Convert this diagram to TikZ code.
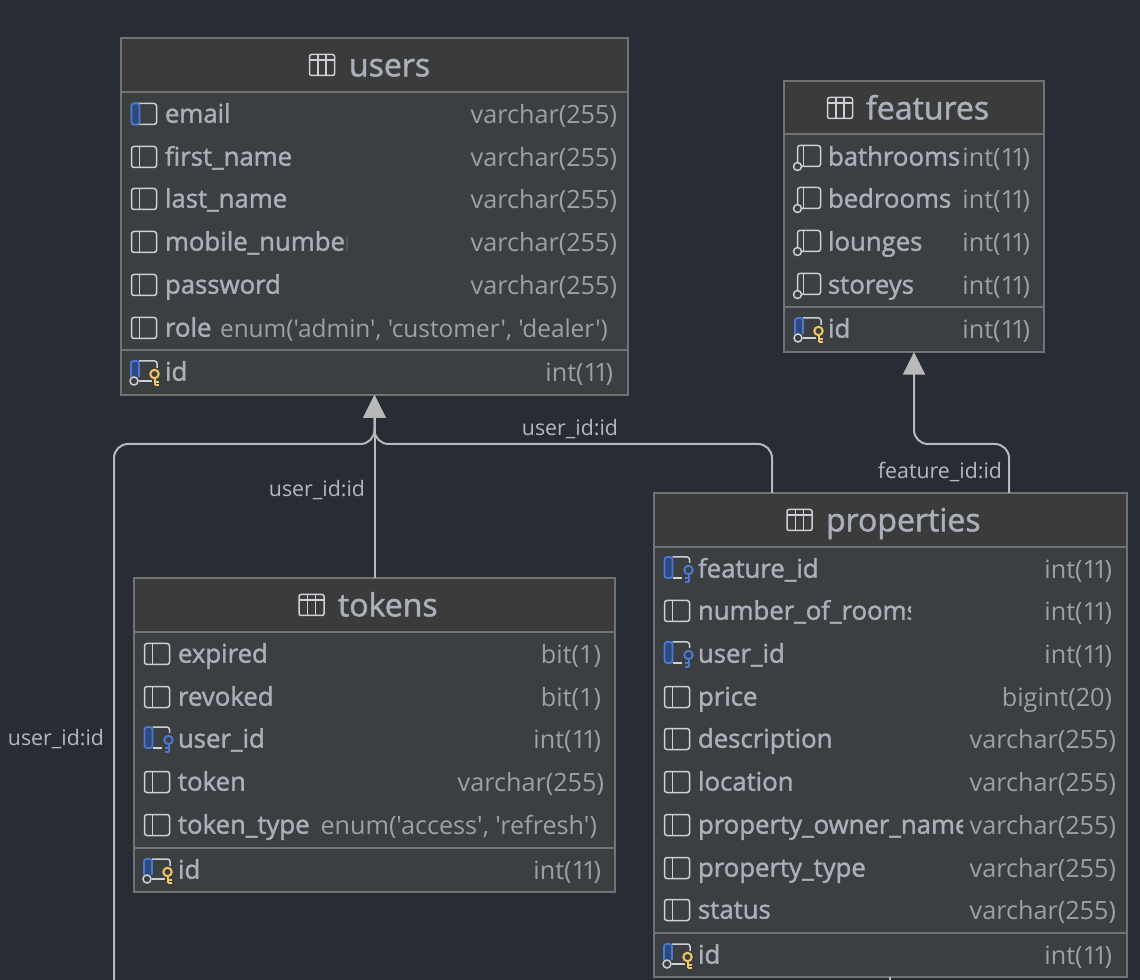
\documentclass[tikz,border=0pt]{standalone}
\usepackage{fontspec}
\usepackage{tikz}
\usetikzlibrary{arrows.meta, positioning}
\setmainfont[Ligatures=TeXOff]{Open Sans}
\newfontfamily\namefont[FakeBold=1.5]{Open Sans}
\definecolor{canvasbg}{HTML}{282C35}
\definecolor{headbg}{HTML}{3B3B3B}
\definecolor{bodybg}{HTML}{3C3F41}
\definecolor{framegray}{HTML}{707274}
\definecolor{namegray}{HTML}{AAB0BB}
\definecolor{typegray}{HTML}{9BA1A9}
\definecolor{linkgray}{HTML}{B9B9B9}
\definecolor{iconwhite}{HTML}{CDD0D6}
\definecolor{keyblue}{HTML}{4C78D0}
\definecolor{paneblue}{HTML}{2C4A80}
\definecolor{keyyellow}{HTML}{F0C860}
\newdimen\px
\px=0.75pt
\newcommand{\intlen}{int(1\kern-3pt 1\kern-2.2pt)}
\tikzset{
    tablebox/.style={rectangle, draw=framegray, fill=bodybg, line width=1.5\px, inner sep=0pt, outer sep=0pt, anchor=north west},
    tablehead/.style={rectangle, draw=framegray, fill=headbg, line width=1.5\px, inner sep=0pt, outer sep=0pt, anchor=north west},
    headtext/.style={inner sep=0pt, outer sep=0pt, anchor=west, text=namegray, font=\namefont\fontsize{24pt}{26pt}\selectfont, text height=20pt, text depth=3pt},
    fieldname/.style={inner sep=0pt, outer sep=0pt, anchor=west, text=namegray, font=\namefont\fontsize{19.3pt}{22pt}\selectfont, text height=16pt, text depth=3pt},
    fieldtype/.style={inner sep=0pt, outer sep=0pt, anchor=east, text=typegray, font=\fontsize{18.9pt}{22pt}\selectfont, text height=17pt, text depth=2.5pt},
    edgelabel/.style={inner sep=0pt, outer sep=0pt, text=namegray!90!white, font=\fontsize{16pt}{18pt}\selectfont, text height=14pt, text depth=1.5pt},
    relarrow/.style={-{Triangle[width=16.5pt,length=17pt]}, line width=1.5pt, linkgray, rounded corners=10.5pt},
    rowline/.style={framegray, line width=1.5\px},
    iconline/.style={iconwhite, line width=1.5\px},
    pics/tableicon/.style={code={
        \draw[iconline, rounded corners=2\px] (0,-10.5) rectangle (25,10.5);
        \draw[iconline] (0,-5) -- (25,-5) (8.5,-10.5) -- (8.5,10.5) (16.5,-10.5) -- (16.5,10.5);
    }},
    pics/colicon/.style={code={
        \draw[iconline, rounded corners=2.5\px] (0,-10.5) rectangle (25,10.5);
        \draw[iconline] (8,-10.5) -- (8,10.5);
    }},
    pics/uniqueicon/.style={code={
        \draw[iconline, rounded corners=2.5\px] (0,-10.5) rectangle (25,10.5);
        \fill[paneblue, rounded corners=2\px] (0,-10.5) rectangle (8,10.5);
        \draw[keyblue, line width=1.8\px, rounded corners=2.5\px] (8,-10.5) -- (0,-10.5) -- (0,10.5) -- (8,10.5) -- cycle;
    }},
    pics/indexicon/.style={code={
        \draw[iconline, rounded corners=2.5\px] (2.5,5) -- (2.5,-11.5) -- (25.5,-11.5) -- (25.5,9.5) -- (7,9.5);
        \draw[iconline] (8.5,-11.5) -- (8.5,9.5);
        \draw[iconline] (2.5,9.5) circle (4);
    }},
    pics/fkicon/.style={code={
        \draw[iconline, rounded corners=2.5\px] (8,9) -- (17,9);
        \draw[iconline, rounded corners=2.5\px] (8,-12) -- (25,-12) -- (25,-6);
        \fill[paneblue, rounded corners=2\px] (0,-12) rectangle (8,9);
        \draw[keyblue, line width=1.8\px, rounded corners=2.5\px] (8,-12) -- (0,-12) -- (0,9) -- (8,9) -- cycle;
        \draw[keyblue, line width=2\px] (24,1) circle (4.2);
        \draw[keyblue, line width=2\px] (24,5) -- (24,13) (24,9) -- (20,9) (24,13) -- (20,13);
    }},
    pics/pkicon/.style={code={
        \draw[iconline, rounded corners=2.5\px] (8,-11) -- (26,-11) -- (26,-4);
        \draw[iconline] (8,9) -- (21,9);
        \fill[paneblue, rounded corners=2\px] (0,-11) rectangle (8,5);
        \draw[keyblue, line width=1.8\px, rounded corners=2.5\px] (0,5) -- (0,-11) -- (8,-11) -- (8,5);
        \draw[iconline] (3,9) circle (4);
        \draw[keyyellow, line width=2\px] (23.5,2) circle (4.2);
        \draw[keyyellow, line width=2\px] (23.5,6) -- (23.5,13) (23.5,10) -- (27.5,10) (23.5,13) -- (27.5,13);
    }}
}
\begin{document}
\begin{tikzpicture}[x=0.75pt, y=-0.75pt]

\useasboundingbox[fill=canvasbg] (0,0) rectangle (1140,980);

% Tables
\node[tablebox, minimum width=507\px, minimum height=357\px] (users) at (121,38) {};
\node[tablehead, minimum width=507\px, minimum height=54\px] (usershead) at (121,38) {};
\node[tablebox, minimum width=260\px, minimum height=271\px] (features) at (784,81) {};
\node[tablehead, minimum width=260\px, minimum height=53\px] (featureshead) at (784,81) {};
\node[tablebox, minimum width=481\px, minimum height=314\px] (tokens) at (134,578) {};
\node[tablehead, minimum width=481\px, minimum height=54\px] (tokenshead) at (134,578) {};
\node[tablebox, minimum width=473\px, minimum height=484\px] (properties) at (654,493) {};
\node[tablehead, minimum width=473\px, minimum height=54\px] (propertieshead) at (654,493) {};

% Connectors
\coordinate (leftend) at (114,980);
\coordinate (bottomend) at (890,980);
\draw[relarrow] (tokens) -- (users);
\draw[relarrow] (properties.north -| 772,0) -- (772,444) -- (374.5,444) -- (users.south);
\draw[relarrow] (leftend) -- (114,444) -- (374.5,444) -- (users.south);
\draw[relarrow] (properties.north -| 1009,0) -- (1009,444) -- (914,444) -- (features.south);
\draw[linkgray, line width=1.5pt] (properties.south -| bottomend) -- (bottomend);

% Connector labels
\node[edgelabel] (lblright) at (570,427) {user\_id:id};
\node[edgelabel] (lbltokens) at (317,488) {user\_id:id};
\node[edgelabel] (lblleft) at (56,737) {user\_id:id};
\node[edgelabel] (lblfeature) at (940,470) {feature\_id:id};

% users
\pic at (309.5,65) {tableicon};
\node[headtext] (usersname) at (349,65) {users};
\pic at (131.5,114) {uniqueicon};
\node[fieldname] (email) at (165,114) {email};
\node[fieldtype] (emailtype) at (617,114) {varchar(255)};
\pic at (131.5,157) {colicon};
\begin{scope}
\clip (165,130) rectangle (292,180);
\node[fieldname] (firstname) at (165,157) {first\_name};
\end{scope}
\node[fieldtype] (firstnametype) at (617,157) {varchar(255)};
\pic at (131.5,199) {colicon};
\begin{scope}
\clip (165,180) rectangle (286,222);
\node[fieldname] (lastname) at (165,199) {last\_name};
\end{scope}
\node[fieldtype] (lastnametype) at (617,199) {varchar(255)};
\pic at (131.5,242) {colicon};
\begin{scope}
\clip (165,222) rectangle (347,265);
\node[fieldname] (mobilenumber) at (165,242) {mobile\_number};
\end{scope}
\node[fieldtype] (mobilenumbertype) at (617,242) {varchar(255)};
\pic at (131.5,285) {colicon};
\node[fieldname] (password) at (165,285) {password};
\node[fieldtype] (passwordtype) at (617,285) {varchar(255)};
\pic at (131.5,328) {colicon};
\node[fieldname] (role) at (165,328) {role};
\node[fieldtype, font=\fontsize{18.3pt}{22pt}\selectfont] (roletype) at (608,328) {enum('admin', 'customer', 'dealer')};
\draw[rowline] (users.west |- 0,350) -- (users.east |- 0,350);
\pic at (131,372) {pkicon};
\node[fieldname] (usersid) at (165,372) {id};
\node[fieldtype] (usersidtype) at (613,372) {\intlen};

% features
\pic at (827.5,108) {tableicon};
\node[headtext] (featuresname) at (866,108) {features};
\pic at (795,157) {indexicon};
\node[fieldname] (bathrooms) at (828,157) {bathrooms};
\node[fieldtype] (bathroomstype) at (1030,157) {\intlen};
\pic at (795,199) {indexicon};
\node[fieldname] (bedrooms) at (828,199) {bedrooms};
\node[fieldtype] (bedroomstype) at (1030,199) {\intlen};
\pic at (795,242) {indexicon};
\node[fieldname] (lounges) at (828,242) {lounges};
\node[fieldtype] (loungestype) at (1030,242) {\intlen};
\pic at (795,285) {indexicon};
\node[fieldname] (storeys) at (828,285) {storeys};
\node[fieldtype] (storeystype) at (1030,285) {\intlen};
\draw[rowline] (features.west |- 0,307) -- (features.east |- 0,307);
\pic at (795,329) {pkicon};
\node[fieldname] (featuresid) at (828,329) {id};
\node[fieldtype] (featuresidtype) at (1030,329) {\intlen};

% tokens
\pic at (299,605) {tableicon};
\node[headtext] (tokensname) at (338,605) {tokens};
\pic at (144.5,654) {colicon};
\node[fieldname] (expired) at (178,654) {expired};
\node[fieldtype] (expiredtype) at (601,654) {bit(1)};
\pic at (144.5,697) {colicon};
\node[fieldname] (revoked) at (178,697) {revoked};
\node[fieldtype] (revokedtype) at (601,697) {bit(1)};
\pic at (144.5,739) {fkicon};
\node[fieldname] (tokensuserid) at (178,739) {user\_id};
\node[fieldtype] (tokensuseridtype) at (601,739) {\intlen};
\pic at (144.5,782) {colicon};
\node[fieldname] (token) at (178,782) {token};
\node[fieldtype] (tokentype) at (604,782) {varchar(255)};
\pic at (144.5,825) {colicon};
\node[fieldname] (tokenkind) at (178,825) {token\_type};
\node[fieldtype] (tokenkindtype) at (597,825) {enum('access', 'refresh')};
\draw[rowline] (tokens.west |- 0,848) -- (tokens.east |- 0,848);
\pic at (144,870) {pkicon};
\node[fieldname] (tokensid) at (178,870) {id};
\node[fieldtype] (tokensidtype) at (601,870) {\intlen};

% properties
\pic at (787,520) {tableicon};
\node[headtext] (propertiesname) at (826,520) {properties};
\pic at (664.5,569) {fkicon};
\node[fieldname] (featureid) at (698,569) {feature\_id};
\node[fieldtype] (featureidtype) at (1112,569) {\intlen};
\pic at (664.5,611) {colicon};
\begin{scope}
\clip (698,590) rectangle (911,633);
\node[fieldname] (numberofrooms) at (698,611) {number\_of\_rooms};
\end{scope}
\node[fieldtype] (numberofroomstype) at (1112,611) {\intlen};
\pic at (664.5,654) {fkicon};
\node[fieldname] (propuserid) at (698,654) {user\_id};
\node[fieldtype] (propuseridtype) at (1112,654) {\intlen};
\pic at (664.5,697) {colicon};
\node[fieldname] (price) at (698,697) {price};
\node[fieldtype] (pricetype) at (1112,697) {bigint(20)};
\pic at (664.5,739) {colicon};
\begin{scope}
\clip (698,718) rectangle (834,761);
\node[fieldname] (description) at (698,739) {description};
\end{scope}
\node[fieldtype] (descriptiontype) at (1116,739) {varchar(255)};
\pic at (664.5,782) {colicon};
\node[fieldname] (location) at (698,782) {location};
\node[fieldtype] (locationtype) at (1116,782) {varchar(255)};
\pic at (664.5,825) {colicon};
\begin{scope}
\clip (698,804) rectangle (963,847);
\node[fieldname] (ownername) at (698,825) {property\_owner\_name};
\end{scope}
\node[fieldtype] (ownernametype) at (1116,825) {varchar(255)};
\pic at (664.5,868) {colicon};
\begin{scope}
\clip (698,847) rectangle (867,890);
\node[fieldname] (propertykind) at (698,868) {property\_type};
\end{scope}
\node[fieldtype] (propertykindtype) at (1116,868) {varchar(255)};
\pic at (664.5,910) {colicon};
\node[fieldname] (status) at (698,910) {status};
\node[fieldtype] (statustype) at (1116,910) {varchar(255)};
\draw[rowline] (properties.west |- 0,933) -- (properties.east |- 0,933);
\pic at (664,955) {pkicon};
\node[fieldname] (propertiesid) at (698,955) {id};
\node[fieldtype] (propertiesidtype) at (1112,955) {\intlen};

\end{tikzpicture}
\end{document}
